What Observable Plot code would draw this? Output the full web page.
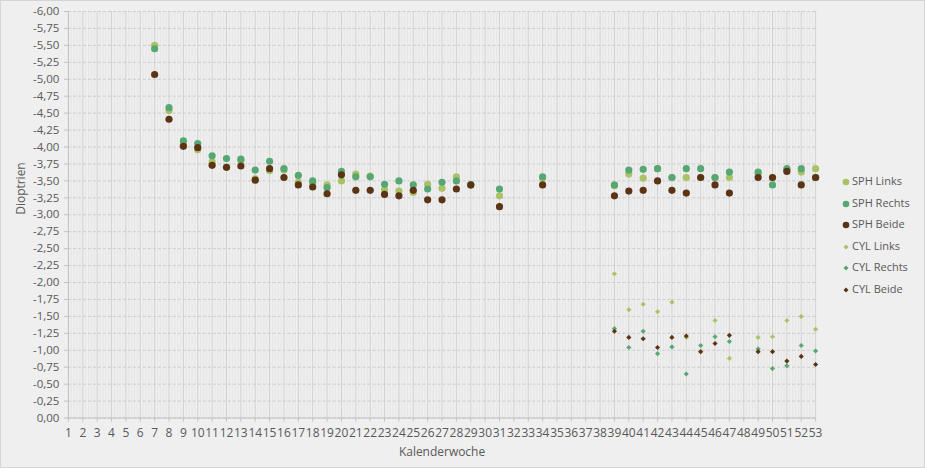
<!DOCTYPE html>
<html>
<head>
<meta charset="utf-8">
<script src="https://cdn.jsdelivr.net/npm/d3@7"></script>
<script src="https://cdn.jsdelivr.net/npm/@observablehq/plot@0.6"></script>
<style>
  html, body { margin: 0; padding: 0; background: #efefef; }
  #wrap { position: relative; width: 923px; height: 466px; border: 1px solid #d4d4d4; background: #efefef; overflow: hidden; font-family: "Open Sans", sans-serif; }
  #chart { position: absolute; left: -1px; top: -1px; }
  .leg { position: absolute; left: 840px; font-size: 11px; color: #595959; line-height: 14px; white-space: nowrap; }
  .leg svg { vertical-align: middle; margin-right: 1px; }
</style>
</head>
<body>
<div id="wrap"><div id="chart"></div></div>
<script>
// ---- data ----
const sphWeeks  = [7,8,9,10,11,12,13,14,15,16,17,18,19,20,21,22,23,24,25,26,27,28,29,31,34,39,40,41,42,43,44,45,46,47,49,50,51,52,53];
const sphLinks  = [-5.50,-4.54,-4.04,-3.96,-3.78,-3.70,-3.80,-3.53,-3.65,-3.66,-3.48,-3.46,-3.44,-3.50,-3.60,-3.57,-3.37,-3.35,-3.33,-3.45,-3.39,-3.56,-3.44,-3.28,-3.54,-3.43,-3.60,-3.54,-3.68,-3.55,-3.55,-3.55,-3.55,-3.55,-3.60,-3.55,-3.66,-3.63,-3.68];
const sphRechts = [-5.45,-4.58,-4.09,-4.05,-3.87,-3.83,-3.82,-3.66,-3.79,-3.68,-3.58,-3.50,-3.40,-3.64,-3.56,-3.56,-3.45,-3.50,-3.44,-3.38,-3.48,-3.50,-3.44,-3.38,-3.56,-3.44,-3.66,-3.67,-3.68,-3.55,-3.68,-3.68,-3.55,-3.63,-3.63,-3.44,-3.68,-3.68,-3.55];
const sphBeide  = [-5.07,-4.41,-4.01,-3.99,-3.73,-3.70,-3.72,-3.51,-3.68,-3.55,-3.44,-3.41,-3.31,-3.59,-3.36,-3.36,-3.30,-3.28,-3.36,-3.22,-3.22,-3.38,-3.44,-3.12,-3.44,-3.28,-3.35,-3.36,-3.50,-3.36,-3.32,-3.55,-3.44,-3.32,-3.55,-3.55,-3.64,-3.44,-3.55];
const cylWeeks  = [39,40,41,42,43,44,45,46,47,49,50,51,52,53];
const cylLinks  = [-2.13,-1.60,-1.68,-1.57,-1.71,-1.19,-0.98,-1.44,-0.88,-1.19,-1.20,-1.44,-1.50,-1.31];
const cylRechts = [-1.32,-1.04,-1.28,-0.95,-1.05,-0.65,-1.07,-1.20,-1.13,-1.02,-0.73,-0.77,-1.07,-0.99];
const cylBeide  = [-1.28,-1.19,-1.17,-1.04,-1.19,-1.21,-0.98,-1.10,-1.22,-0.98,-0.98,-0.84,-0.91,-0.79];
const weekTicks = d3.range(1, 54);
const yTicks = d3.range(0, -6.01, -0.25);
const seriesNames = ["SPH Links","SPH Rechts","SPH Beide","CYL Links","CYL Rechts","CYL Beide"];
const colors = {Links: "#a9c265", Rechts: "#57a775", Beide: "#5b3415"};

// ---- build tables ----
const sph = (vals, s) => sphWeeks.map((w, i) => ({week: w, value: vals[i], s})).filter(d => d.value != null);
const cyl = (vals, s) => cylWeeks.map((w, i) => ({week: w, value: vals[i], s})).filter(d => d.value != null);
const minorX = d3.range(1, 53.001, 0.2).filter(v => Math.abs(v - Math.round(v)) > 1e-6);

const fmt = d => (Math.abs(d) < 1e-9 ? "0,00" : d.toFixed(2).replace(".", ","));

const plot = Plot.plot({
  width: 925,
  height: 468,
  marginLeft: 68,
  marginRight: 109,
  marginTop: 11,
  marginBottom: 50,
  style: {background: "transparent", fontFamily: "Open Sans, sans-serif", fontSize: "12px", color: "#595959"},
  x: {domain: [1, 53], ticks: weekTicks, tickFormat: d => String(d), label: null},
  y: {domain: [0, -6], ticks: yTicks, tickFormat: fmt, label: null},
  marks: [
    Plot.ruleX(minorX, {stroke: "#e5e5e5", strokeWidth: 1}),
    Plot.ruleX(weekTicks, {stroke: "#d0d0d0", strokeWidth: 1}),
    Plot.ruleY(yTicks, {stroke: "#cdcdcd", strokeWidth: 1, strokeDasharray: "3,2"}),
    Plot.ruleY([0], {stroke: "#c2c2c2"}),
    Plot.ruleX([1], {stroke: "#c2c2c2"}),
    Plot.axisX({ticks: weekTicks, tickFormat: d => String(d), tickSize: 4, stroke: "#c2c2c2", tickPadding: 6, fontSize: 12, fill: "#595959", label: null}),
    Plot.axisY({ticks: yTicks, tickFormat: fmt, tickSize: 4, stroke: "#c2c2c2", tickPadding: 5, fontSize: 11.5, fill: "#595959", label: null}),
    Plot.dot(sph(sphLinks, "Links"),  {x: "week", y: "value", r: 3.6, fill: colors.Links, stroke: null}),
    Plot.dot(sph(sphRechts, "Rechts"), {x: "week", y: "value", r: 3.6, fill: colors.Rechts, stroke: null}),
    Plot.dot(sph(sphBeide, "Beide"),  {x: "week", y: "value", r: 3.6, fill: colors.Beide, stroke: null}),
    Plot.dot(cyl(cylLinks, "Links"),  {x: "week", y: "value", r: 2.3, symbol: "diamond2", fill: colors.Links, stroke: null}),
    Plot.dot(cyl(cylRechts, "Rechts"), {x: "week", y: "value", r: 2.3, symbol: "diamond2", fill: colors.Rechts, stroke: null}),
    Plot.dot(cyl(cylBeide, "Beide"),  {x: "week", y: "value", r: 2.3, symbol: "diamond2", fill: colors.Beide, stroke: null}),
    Plot.text(["Kalenderwoche"], {frameAnchor: "bottom", dy: 38, text: d => d, fontSize: 12, fill: "#595959"}),
    Plot.text(["Dioptrien"], {frameAnchor: "left", dx: -47, rotate: -90, text: d => d, fontSize: 12, fill: "#595959"})
  ]
});
document.getElementById("chart").appendChild(plot);

// ---- legend ----
const wrap = document.getElementById("wrap");
const legY = [181, 203, 224, 246, 267, 289];
seriesNames.forEach((name, i) => {
  const side = name.split(" ")[1];
  const isCyl = name.startsWith("CYL");
  const div = document.createElement("div");
  div.className = "leg";
  div.style.top = (legY[i] - 1 - 7) + "px";
  const mk = isCyl
    ? `<svg width="10" height="10"><path d="M5,2.5L7.5,5L5,7.5L2.5,5Z" fill="${colors[side]}"/></svg>`
    : `<svg width="10" height="10"><circle cx="5" cy="5" r="3.3" fill="${colors[side]}"/></svg>`;
  div.innerHTML = mk + name;
  wrap.appendChild(div);
});
</script>
</body>
</html>
